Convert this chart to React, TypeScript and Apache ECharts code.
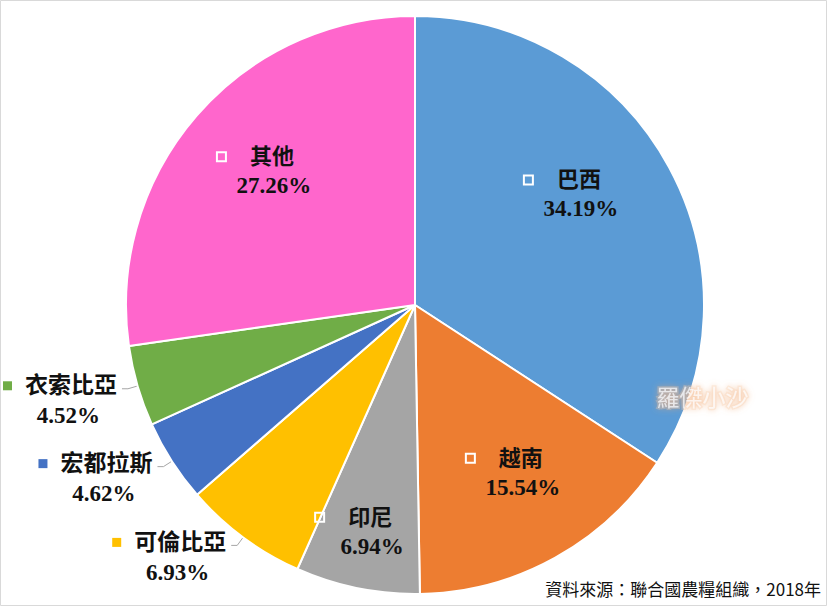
import React, { useEffect, useRef } from "react";
import * as echarts from "echarts";

const categories = ["巴西", "越南", "印尼", "可倫比亞", "宏都拉斯", "衣索比亞", "其他"];
const shares = [34.19, 15.54, 6.94, 6.93, 4.62, 4.52, 27.26];
const colors = ["#5B9BD5", "#ED7D31", "#A5A5A5", "#FFC000", "#4472C4", "#70AD47", "#FF66CC"];
const outsideLabels = ["可倫比亞", "宏都拉斯", "衣索比亞"];
// inside label placement: fraction of radius, angular shift (deg, clockwise)
const insideLabelPlace: Record<string, [number, number]> = {
  巴西: [0.664, -5],
  越南: [0.675, -4.7],
  印尼: [0.806, -2],
  其他: [0.695, 3],
};
const sourceText = "資料來源：聯合國農糧組織，2018年";
const watermark = "羅傑小沙";

const CX = 415;
const CY = 305;
const R = 289;

const serif = "'Liberation Serif', 'Noto Sans CJK TC', serif";

export default function App() {
  const ref = useRef<HTMLDivElement>(null);
  useEffect(() => {
    if (!ref.current) return;
    const chart = echarts.init(ref.current, null, { renderer: "svg" });
    const data = categories.map((name, i) => {
      const outside = outsideLabels.includes(name);
      const pct = shares[i].toFixed(2) + "%";
      return {
        name,
        value: shares[i],
        itemStyle: { color: colors[i] },
        label: outside
          ? {
              position: "outside",
              padding: [24, 0, 0, 0],
              formatter: `{mf|}{s| }{n|${name}}\n{p|${pct}}{t| }`,
              rich: {
                mf: { width: 9, height: 9, backgroundColor: colors[i] },
                s: { width: 13 },
                n: { fontSize: 23, fontWeight: "bold", fontFamily: serif, color: "#111", lineHeight: 30 },
                p: { fontSize: 23, fontWeight: "bold", fontFamily: serif, color: "#111", lineHeight: 30 },
                t: { width: 17 },
              },
            }
          : {
              position: "inside",
              formatter: `{m| }{s| }{n|${name}}{t| }\n{p|${pct}}`,
              rich: {
                m: { width: 9, height: 9, borderColor: "#fff", borderWidth: 2 },
                s: { width: 24 },
                t: { width: 37 },
                n: { fontSize: 22, fontWeight: "bold", fontFamily: serif, color: "#111", lineHeight: 29 },
                p: { fontSize: 23, fontWeight: "bold", fontFamily: serif, color: "#111", lineHeight: 29 },
              },
            },
        labelLine: outside
          ? { show: true, length: 10, length2: 6, lineStyle: { color: "#a6a6a6", width: 1 } }
          : { show: false },
      };
    });
    chart.setOption({
      animation: false,
      backgroundColor: "#fff",
      graphic: [
        {
          type: "rect",
          shape: { x: 0.5, y: 0.5, width: 826, height: 605 },
          style: { fill: "none", stroke: "#d9d9d9", lineWidth: 1 },
          z: -1,
        },
        {
          type: "text",
          right: 8,
          top: 580,
          style: { text: sourceText, fontSize: 17, fontFamily: "'Noto Sans CJK TC', sans-serif", fill: "#111" },
        },
        {
          type: "text",
          left: 655,
          top: 385,
          z: 100,
          style: {
            text: watermark,
            fontSize: 23,
            fontFamily: serif,
            fill: "rgba(255,255,255,0.7)",
            stroke: "rgba(248,205,170,0.3)",
            lineWidth: 3,
            textShadowColor: "rgba(240,165,110,0.85)",
            textShadowBlur: 6,
          },
        },
      ],
      series: [
        {
          type: "pie",
          center: [CX, CY],
          radius: [0, R],
          startAngle: 90,
          clockwise: true,
          avoidLabelOverlap: false,
          itemStyle: { borderColor: "#fff", borderWidth: 2 },
          emphasis: { disabled: true },
          data,
          labelLayout: (params: any) => {
            const name = categories[params.dataIndex];
            const place = insideLabelPlace[name];
            if (!place) return {};
            const r = params.labelRect;
            const lx = r.x + r.width / 2;
            const ly = r.y + r.height / 2;
            const a = Math.atan2(ly - CY, lx - CX) + (place[1] * Math.PI) / 180;
            const rr = place[0] * R;
            const nx = CX + rr * Math.cos(a);
            const ny = CY + rr * Math.sin(a);
            return { dx: nx - lx, dy: ny - ly };
          },
        },
      ],
    });
    return () => chart.dispose();
  }, []);
  return <div ref={ref} style={{ position: "fixed", left: 0, top: 0, width: 829, height: 608 }} />;
}
